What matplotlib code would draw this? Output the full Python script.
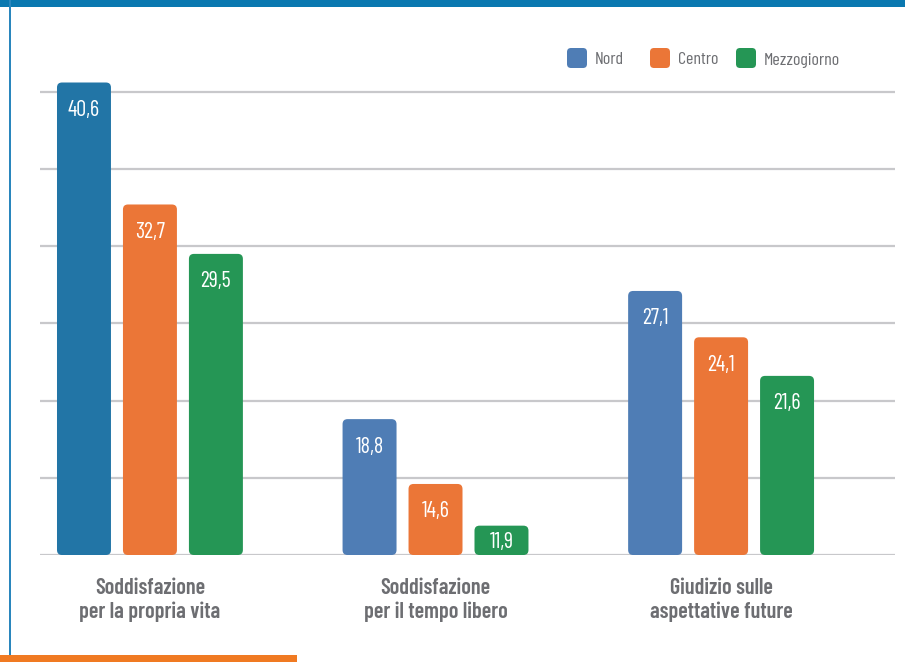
import matplotlib.pyplot as plt
from matplotlib.patches import FancyBboxPatch, Rectangle
import numpy as np

categorie = ['Soddisfazione\nper la propria vita',
             'Soddisfazione\nper il tempo libero',
             'Giudizio sulle\naspettative future']
serie = ['Nord', 'Centro', 'Mezzogiorno']
nord = [40.6, 18.8, 27.1]
centro = [32.7, 14.6, 24.1]
mezzogiorno = [29.5, 11.9, 21.6]

colori = ['#4f7db5', '#eb7637', '#259655']
blu_scuro = '#2275a6'
grigio = '#6d6e72'

plt.rcParams['font.family'] = ['Barlow Condensed', 'DejaVu Sans']

fig = plt.figure(figsize=(9.05, 6.62), dpi=100)
W, H = 905, 662
ax = fig.add_axes([40 / W, (H - 555) / H, 855 / W, 525 / H])
ax.set_xlim(-0.385, 2.609)
ax.set_ylim(10, 44)

for y in range(10, 45, 5):
    ax.axhline(y, color='#c8c8cb', lw=1.6, zorder=1)

x = np.arange(len(categorie))
passo = 0.231
larg = 0.189
# px -> unita' dati, per arrotondare gli angoli
px_x = 2.994 / 855
px_y = 34 / 525
r = 5 * px_x
aspect = px_y / px_x

for i, vals in enumerate([nord, centro, mezzogiorno]):
    bars = ax.bar(x + (i - 1) * passo, np.array(vals) - 10, width=larg,
                  bottom=10, color=colori[i], zorder=2)
    for j, b in enumerate(bars):
        b.set_visible(False)
        c = colori[i]
        if i == 0 and j == 0:
            c = blu_scuro
        p = FancyBboxPatch((b.get_x(), b.get_y()), b.get_width(), b.get_height(),
                           boxstyle=f'round,pad=0,rounding_size={r}',
                           mutation_aspect=aspect, fc=c, ec='none', zorder=3)
        ax.add_patch(p)
        off = min(28 * px_y, b.get_height() / 2 + 2 * px_y)
        ax.text(b.get_x() + b.get_width() / 2, vals[j] - off,
                f'{vals[j]:.1f}'.replace('.', ','), color='white',
                ha='center', va='center', fontsize=16, fontweight='normal', zorder=4)

for xi, lab in zip(x, categorie):
    ax.text(xi, 10 - 45 * px_y, lab, ha='center', va='center',
            fontsize=16, fontweight='semibold', color=grigio, linespacing=1.25)

ax.set_xticks([])
ax.set_yticks([])
for s in ax.spines.values():
    s.set_visible(False)

# legenda
leg_x = [567, 650, 736]
for lx, nome, c in zip(leg_x, serie, colori):
    fig.patches.append(FancyBboxPatch((lx / W, 1 - 68 / H), 20 / W, 20 / H,
                                      boxstyle=f'round,pad=0,rounding_size={4 / W}',
                                      mutation_aspect=W / H,
                                      transform=fig.transFigure, fc=c, ec='none'))
    fig.text((lx + 28) / W, 1 - 60 / H, nome, ha='left', va='center',
             fontsize=13, color=grigio)

# cornice
fig.patches.append(Rectangle((0, 1 - 7 / H), 1, 7 / H, transform=fig.transFigure,
                             fc='#0a78b0', ec='none'))
fig.patches.append(Rectangle((9 / W, 7 / H), 2 / W, 1 - 7 / H, transform=fig.transFigure,
                             fc='#2a86bd', ec='none'))
fig.patches.append(Rectangle((0, 0), 297 / W, 7 / H, transform=fig.transFigure,
                             fc='#f07a22', ec='none'))

fig.savefig('out.png', dpi=100)
